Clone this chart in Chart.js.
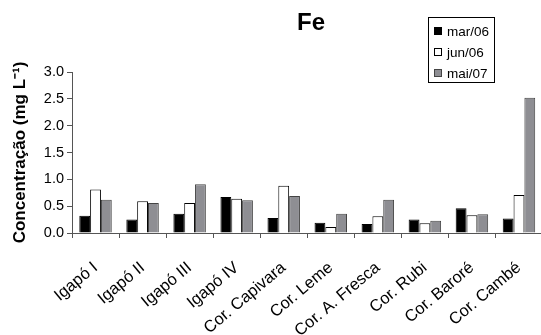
<!DOCTYPE html>
<html>
<head>
<meta charset="utf-8">
<script src="https://cdn.jsdelivr.net/npm/chart.js@4"></script>
<style>
    html, body { margin: 0; padding: 0; background: #fff; overflow: hidden; }
    #wrap { width: 541px; height: 335px; overflow: hidden; }
    #box { width: 552px; height: 335px; }
</style>
</head>
<body>
<div id="wrap"><div id="box"><canvas id="feChart"></canvas></div></div>
<script>
const categories = ['Igapó I', 'Igapó II', 'Igapó III', 'Igapó IV', 'Cor. Capivara',
    'Cor. Leme', 'Cor. A. Fresca', 'Cor. Rubi', 'Cor. Baroré', 'Cor. Cambé'];
const seriesNames = ['mar/06', 'jun/06', 'mai/07'];
const mar06 = [0.32, 0.25, 0.36, 0.67, 0.28, 0.19, 0.17, 0.25, 0.46, 0.27];
const jun06 = [0.81, 0.59, 0.56, 0.64, 0.88, 0.11, 0.31, 0.18, 0.33, 0.71];
const mai07 = [0.62, 0.56, 0.91, 0.61, 0.69, 0.36, 0.62, 0.23, 0.35, 2.52];
const yTicks = [0, 0.5, 1.0, 1.5, 2.0, 2.5, 3.0];

const FONT = 'Liberation Sans, Arial, sans-serif';

// titulo "Fe" e legenda desenhados na mão, na posição do original
const extras = {
    id: 'extras',
    afterDraw(chart) {
        const ctx = chart.ctx;
        ctx.save();
        ctx.fillStyle = '#000';
        ctx.font = 'bold 24px ' + FONT;
        ctx.textAlign = 'center';
        ctx.textBaseline = 'middle';
        ctx.fillText('Fe', 311, 23);

        ctx.strokeStyle = '#000';
        ctx.lineWidth = 1;
        ctx.fillStyle = '#fff';
        ctx.fillRect(428.5, 17.5, 66, 65);
        ctx.strokeRect(428.5, 17.5, 66, 65);
        ctx.font = '13.5px ' + FONT;
        ctx.textAlign = 'left';
        chart.data.datasets.forEach((ds, i) => {
            const y = 31 + i * 21;
            ctx.fillStyle = ds.backgroundColor;
            ctx.fillRect(434.5, y - 3.5, 7, 7);
            ctx.strokeStyle = ds.borderColor;
            ctx.strokeRect(434.5, y - 3.5, 7, 7);
            ctx.fillStyle = '#000';
            ctx.fillText(ds.label, 447, y + 1);
        });
        ctx.restore();
    }
};

new Chart(document.getElementById('feChart'), {
    type: 'bar',
    data: {
        labels: categories,
        datasets: [
            { label: seriesNames[0], data: mar06, backgroundColor: '#000000', borderColor: '#000000' },
            { label: seriesNames[1], data: jun06, backgroundColor: '#ffffff', borderColor: '#000000' },
            { label: seriesNames[2], data: mai07, backgroundColor: '#8e8e93', borderColor: '#444444' }
        ].map(d => Object.assign(d, { borderWidth: 1, categoryPercentage: 0.69, barPercentage: 1.0 }))
    },
    options: {
        responsive: true,
        maintainAspectRatio: false,
        animation: false,
        layout: { padding: { top: 72, right: 6, bottom: 0, left: 0 } },
        plugins: { legend: { display: false }, title: { display: false }, tooltip: { enabled: false } },
        scales: {
            x: {
                offset: true,
                grid: { offset: true, drawOnChartArea: false, tickLength: 5, color: '#555' },
                border: { color: '#555' },
                ticks: { color: '#000', font: { family: FONT, size: 16.5 }, maxRotation: 40, minRotation: 40, autoSkip: false, padding: 20 },
                afterFit(scale) { scale.height = 102; }
            },
            y: {
                min: 0,
                max: 3,
                afterBuildTicks(scale) { scale.ticks = yTicks.map(v => ({ value: v })); },
                grid: { drawOnChartArea: false, tickLength: 5, color: '#555' },
                border: { color: '#555' },
                ticks: { color: '#000', font: { family: FONT, size: 14.5 }, padding: 3, callback: v => v.toFixed(1) },
                title: {
                    display: true,
                    text: 'Concentração (mg L⁻¹)',
                    color: '#000',
                    font: { family: FONT, size: 17, weight: 'bold' },
                    padding: { top: 10, bottom: 0 }
                },
                afterFit(scale) { scale.width = 72; }
            }
        }
    },
    plugins: [extras]
});
</script>
</body>
</html>
